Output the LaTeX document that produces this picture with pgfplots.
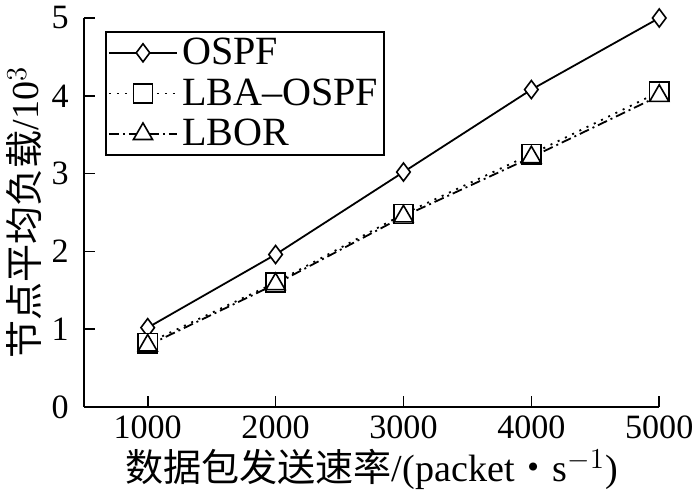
\documentclass[border=0pt]{standalone}
\usepackage{fontspec}
\setmainfont{Liberation Serif}
\newfontfamily\cjk{Noto Sans CJK SC}
\usepackage{pgfplots}
\pgfplotsset{compat=1.18}

\begin{document}
\begin{tikzpicture}
\begin{axis}[
  scale only axis,
  width=287pt, height=194pt,
  xmin=500, xmax=5000, ymin=0, ymax=5,
  axis lines=left,
  axis line style={-, line width=0.8pt},
  xtick={1000,2000,3000,4000,5000},
  ytick={0,1,2,3,4,5},
  tick align=inside,
  major tick length=5.5pt,
  tick style={line width=0.8pt, black},
  /pgf/number format/assume math mode=true,
  /pgf/number format/set thousands separator={},
  ticklabel style={font=\fontsize{17}{18}\selectfont},
  yticklabel style={xshift=-4pt},
  xticklabel style={yshift=-1pt},
  xlabel={{\cjk 数据包发送速率}/(packet{\cjk ・}s$^{-1}$)},
  ylabel={{\cjk 节点平均负载}/10$^3$},
  label style={font=\fontsize{19}{20}\selectfont},
  xlabel style={yshift=2pt},
  ylabel style={yshift=-2pt},
  legend style={at={(rel axis cs:0.037,0.966)}, anchor=north west,
    draw=black, line width=0.8pt, font=\fontsize{20}{21}\selectfont,
    inner xsep=1pt, inner ysep=1pt, row sep=1.5pt, cells={anchor=west}},
  legend image code/.code={
    \draw[mark repeat=2,mark phase=2,#1]
      plot coordinates {(0cm,0cm) (0.6cm,0cm) (1.2cm,0cm)};},
]
\addplot[black, line width=0.9pt, mark=diamond*, mark size=4.5pt,
  mark options={solid, fill=white, line width=0.8pt}]
  coordinates {(1000,1.02) (2000,1.96) (3000,3.02) (4000,4.08) (5000,5.00)};
\addplot[black, line width=0.9pt, dash pattern=on 1pt off 3pt,
  mark=square*, mark size=4.8pt,
  mark options={solid, fill=white, line width=0.8pt}]
  coordinates {(1000,0.82) (2000,1.60) (3000,2.48) (4000,3.25) (5000,4.05)};
\addplot[black, line width=0.9pt, dash pattern=on 5pt off 2pt on 1pt off 2pt,
  mark=triangle*, mark size=5.5pt,
  mark options={solid, fill=white, line width=0.8pt}]
  coordinates {(1000,0.79) (2000,1.58) (3000,2.45) (4000,3.21) (5000,4.00)};
\legend{OSPF, LBA{--}OSPF, LBOR}
\end{axis}
\end{tikzpicture}
\end{document}
